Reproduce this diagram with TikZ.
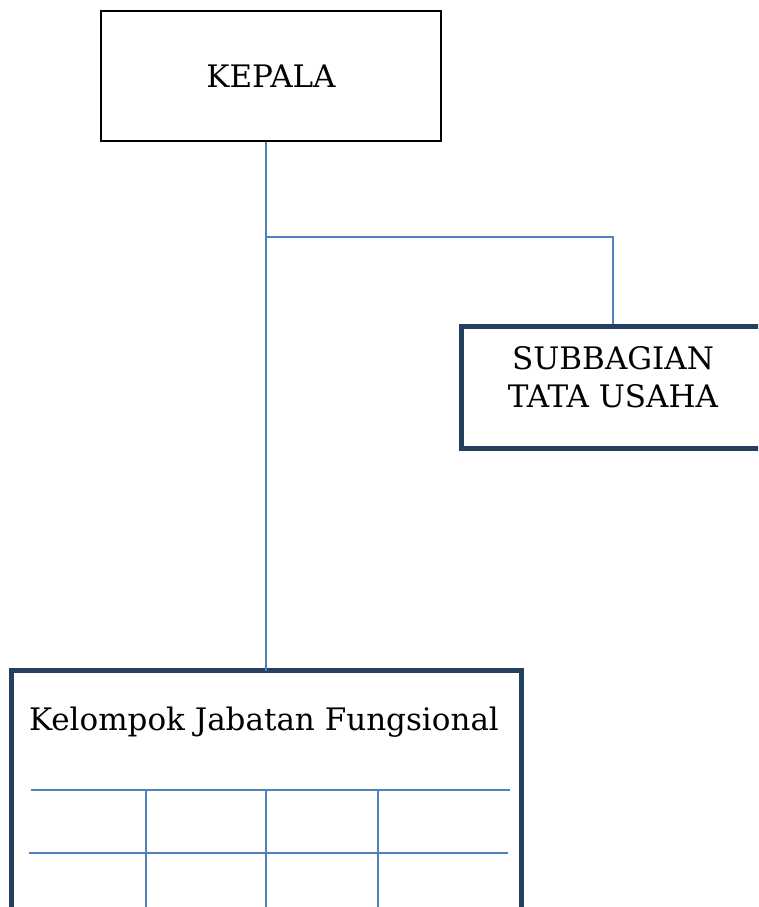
\documentclass[tikz,border=0pt]{standalone}
\usepackage{fontspec}
\setmainfont{DejaVu Serif}
\usetikzlibrary{positioning}
\definecolor{linkblue}{HTML}{4F81BD}
\definecolor{boxnavy}{HTML}{243F60}

\begin{document}
\begin{tikzpicture}[x=1pt,y=1pt,
    unitbox/.style={rectangle, draw=boxnavy, line width=5pt, inner sep=0pt, outer sep=0pt},
    link/.style={draw=linkblue, line width=1.8pt}]
          \useasboundingbox (0,0) rectangle (758,-907);
          \clip (0,0) rectangle (758,-907);
          \node[rectangle, draw, line width=2pt, minimum width=340pt, minimum height=130pt,
                font=\fontsize{31}{37}\selectfont] at (271,-76) (kepala) {KEPALA};
          \node[unitbox, minimum width=340pt, minimum height=122pt, anchor=north west] at (461.5,-326.5) (tu) {};
          \node[align=center, font=\fontsize{31}{38}\selectfont] at (613,-377) (tutext) {SUBBAGIAN\\TATA USAHA};
          \node[unitbox, minimum width=510pt, minimum height=300pt, anchor=north west] at (11.5,-670.5) (kjf) {};
          \node[font=\fontsize{31}{37}\selectfont] at (264,-722) (kjftext) {Kelompok Jabatan Fungsional};
          \coordinate (trunk) at ([xshift=-5pt]kepala.south);
          \coordinate (branch) at (trunk |- 0,-237);
          \coordinate (tutop) at ([yshift=3pt]tutext |- tu.north);
          \draw[link] (trunk) -- (kjf.north -| trunk);
          \draw[link] (branch) -| (tutop);
          % kotak anggota
          \draw[link, line width=1.5pt] (31,-790) -- (510,-790);
          \draw[link, line width=1.5pt] (29,-853) -- (508,-853);
          \foreach \xpos in {146,266,378}
            \draw[link, line width=1.5pt] (\xpos,-790) -- (\xpos,-907);
        \end{tikzpicture}
\end{document}
